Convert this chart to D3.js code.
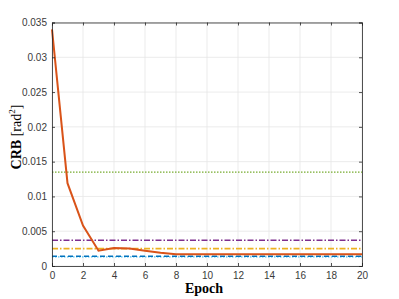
<!DOCTYPE html>
<html>
<head>
<meta charset="utf-8">
<script src="https://cdn.jsdelivr.net/npm/d3@7"></script>
<style>
  body { margin: 0; background: #fff; }
  .tick text { font-family: "Liberation Sans", Arial, sans-serif; font-size: 10px; fill: #3a3a3a; }
</style>
</head>
<body>
<script>
"use strict";
// data
const epochs = d3.range(0, 21)
const crbTrain = [0.0340, 0.0119, 0.0058, 0.0022, 0.0026, 0.0025, 0.0022, 0.0019, 0.0017, 0.0017,
    0.0017, 0.0017, 0.0017, 0.0017, 0.0017, 0.0017, 0.0017, 0.0017, 0.0017, 0.0017, 0.0017]
const refLevels = [
    { value: 0.0135, color: "#77AC30", dash: "1.5,1.5", width: 1.3 },
    { value: 0.0037, color: "#7E2F8E", dash: "6,2,1.5,2", width: 1.6 },
    { value: 0.0025, color: "#EDB120", dash: "6,2,1.5,2", width: 1.6 },
    { value: 0.0013, color: "#4DBEEE", dash: "1.5,1.5", width: 1.3 },
    { value: 0.0014, color: "#0072BD", dash: "5,3", width: 1.6 }
]
const xTicks = [0, 2, 4, 6, 8, 10, 12, 14, 16, 18, 20]
const yTicks = [0, 0.005, 0.01, 0.015, 0.02, 0.025, 0.03, 0.035]

const m = { left: 52, right: 362, top: 22.5, bottom: 266 }
const svg = d3.select("body").append("svg").attr("width", 399).attr("height", 299)

const x = d3.scaleLinear().domain([0, 20]).range([m.left, m.right])
const y = d3.scaleLinear().domain([0, 0.035]).range([m.bottom, m.top])

// grid
svg.append("g").selectAll("line").data(xTicks).join("line")
    .attr("x1", d => x(d)).attr("x2", d => x(d)).attr("y1", m.top).attr("y2", m.bottom)
    .attr("stroke", "#e6e6e6").attr("stroke-width", 0.8)
svg.append("g").selectAll("line").data(yTicks).join("line")
    .attr("y1", d => y(d)).attr("y2", d => y(d)).attr("x1", m.left).attr("x2", m.right)
    .attr("stroke", "#e6e6e6").attr("stroke-width", 0.8)

// reference lines
svg.append("g").selectAll("line").data(refLevels).join("line")
    .attr("x1", x(0)).attr("x2", x(20))
    .attr("y1", d => y(d.value)).attr("y2", d => y(d.value))
    .attr("stroke", d => d.color).attr("stroke-dasharray", d => d.dash)
    .attr("stroke-width", d => d.width)

// curve
svg.append("path").datum(epochs)
    .attr("fill", "none").attr("stroke", "#D95319").attr("stroke-width", 2)
    .attr("d", d3.line().x(d => x(d)).y((d, i) => y(crbTrain[i])))

// axes
svg.append("g").attr("transform", `translate(0,${m.bottom})`)
    .call(d3.axisBottom(x).tickValues(xTicks).tickSize(-3).tickPadding(6).tickFormat(d3.format("d")))
svg.append("g").attr("transform", `translate(${m.left},0)`)
    .call(d3.axisLeft(y).tickValues(yTicks).tickSize(-3).tickPadding(5).tickFormat(d => d === 0 ? "0" : String(+d.toFixed(3))))
svg.append("g").attr("transform", `translate(0,${m.top})`)
    .call(d3.axisTop(x).tickValues(xTicks).tickSize(-3).tickFormat(""))
svg.append("g").attr("transform", `translate(${m.right},0)`)
    .call(d3.axisRight(y).tickValues(yTicks).tickSize(-3).tickFormat(""))
svg.selectAll(".domain").attr("stroke", "#262626").attr("stroke-width", 0.8)
svg.selectAll(".tick line").attr("stroke", "#262626").attr("stroke-width", 0.8)

// labels
svg.append("text")
    .attr("x", 204).attr("y", 293)
    .attr("text-anchor", "middle")
    .style("font-family", "'Liberation Serif', 'Times New Roman', serif")
    .style("font-weight", "bold").style("font-size", "14px")
    .text("Epoch")
const yl = svg.append("text")
    .attr("transform", `translate(21,137) rotate(-90)`)
    .attr("text-anchor", "middle")
    .style("font-family", "'Liberation Serif', 'Times New Roman', serif")
    .style("font-size", "14px")
yl.append("tspan").style("font-weight", "bold").text("CRB ")
yl.append("tspan").text("[rad")
yl.append("tspan").attr("dy", -6).style("font-size", "9px").text("2")
yl.append("tspan").attr("dy", 6).text("]")
</script>
</body>
</html>
